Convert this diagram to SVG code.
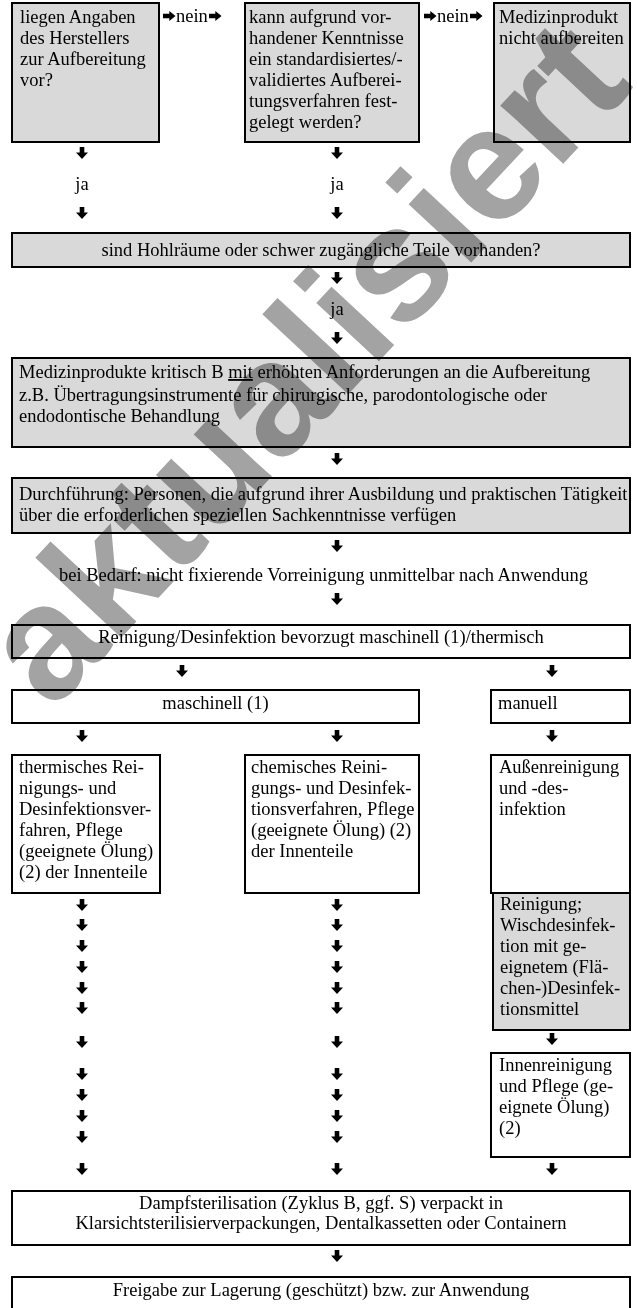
<svg xmlns="http://www.w3.org/2000/svg" xmlns:xlink="http://www.w3.org/1999/xlink" width="637" height="1308" viewBox="0 0 637 1308">
<style>
  .box { stroke: #000; stroke-width: 2; fill: #fff; }
  .grey { fill: #d9d9d9; }
  text { font-family: "Liberation Serif", "Times New Roman", serif; font-size: 18.5px; fill: #000; }
  .mid { text-anchor: middle; }
  .wm { font-family: "Liberation Sans", Arial, sans-serif; font-weight: bold; font-size: 162px; fill: #a3a3a3; mix-blend-mode: multiply; }
</style>
<defs>
  <path id="dn" d="M-2.3,0 H2.3 V5.4 H6 L0,12 L-6,5.4 H-2.3 Z" fill="#000"/>
  <path id="rt" d="M0,-2.3 H6.3 V-5 L12.5,0 L6.3,5 V2.3 H0 Z" fill="#000"/>
</defs>
<rect width="637" height="1308" fill="#fff"/>

<g id="nodeA"><rect class="box grey" x="12" y="3" width="147" height="139"/>
<text x="20" y="23">liegen Angaben</text><text x="20" y="44">des Herstellers</text><text x="20" y="65">zur Aufbereitung</text><text x="20" y="86">vor?</text></g>

<g id="nodeB"><rect class="box grey" x="245" y="3" width="174" height="139"/>
<text x="249" y="23">kann aufgrund vor-</text><text x="249" y="44">handener Kenntnisse</text><text x="249" y="65">ein standardisiertes/-</text><text x="249" y="86">validiertes Aufberei-</text><text x="249" y="107">tungsverfahren fest-</text><text x="249" y="128">gelegt werden?</text></g>

<g id="nodeC"><rect class="box grey" x="494" y="3" width="136" height="139"/>
<text x="499" y="23">Medizinprodukt</text><text x="499" y="44">nicht aufbereiten</text></g>

<g id="nodeHohl"><rect class="box grey" x="12" y="233" width="618" height="34"/>
<text class="mid" x="321" y="256">sind Hohlräume oder schwer zugängliche Teile vorhanden?</text></g>

<g id="nodeKritB"><rect class="box grey" x="12" y="358" width="618" height="89"/>
<text x="19" y="378">Medizinprodukte kritisch B <tspan text-decoration="underline">mit</tspan> erhöhten Anforderungen an die Aufbereitung</text>
<text x="19" y="401">z.B. Übertragungsinstrumente für chirurgische, parodontologische oder</text>
<text x="19" y="422">endodontische Behandlung</text></g>

<g id="nodeDurch"><rect class="box grey" x="12" y="478" width="618" height="55"/>
<text x="19" y="500">Durchführung: Personen, die aufgrund ihrer Ausbildung und praktischen Tätigkeit</text>
<text x="19" y="521">über die erforderlichen speziellen Sachkenntnisse verfügen</text></g>

<g id="nodeVorrein"><text x="59" y="581">bei Bedarf: nicht fixierende Vorreinigung unmittelbar nach Anwendung</text></g>

<g id="nodeRein"><rect class="box" x="12" y="625" width="618" height="33"/>
<text class="mid" x="321" y="643">Reinigung/Desinfektion bevorzugt maschinell (1)/thermisch</text></g>

<g id="nodeMasch"><rect class="box" x="12" y="690" width="407" height="33"/>
<text class="mid" x="215.5" y="709">maschinell (1)</text></g>

<g id="nodeManuell"><rect class="box" x="491" y="690" width="139" height="33"/>
<text x="498" y="709">manuell</text></g>

<g id="nodeTherm"><rect class="box" x="12" y="755" width="148" height="138"/>
<text x="19" y="773">thermisches Rei-</text><text x="19" y="794">nigungs- und</text><text x="19" y="815">Desinfektionsver-</text><text x="19" y="836">fahren, Pflege</text><text x="19" y="857">(geeignete Ölung)</text><text x="19" y="878">(2) der Innenteile</text></g>

<g id="nodeChem"><rect class="box" x="245" y="755" width="174" height="138"/>
<text x="251" y="773">chemisches Reini-</text><text x="251" y="794">gungs- und Desinfek-</text><text x="251" y="815">tionsverfahren, Pflege</text><text x="251" y="836">(geeignete Ölung) (2)</text><text x="251" y="857">der Innenteile</text></g>

<g id="nodeAussen"><rect class="box" x="491" y="755" width="139" height="138"/>
<text x="499" y="773">Außenreinigung</text><text x="499" y="794">und -des-</text><text x="499" y="815">infektion</text></g>

<g id="nodeWisch"><rect class="box grey" x="493" y="893" width="137" height="137"/>
<text x="500" y="910">Reinigung;</text><text x="500" y="931">Wischdesinfek-</text><text x="500" y="952">tion mit ge-</text><text x="500" y="973">eignetem (Flä-</text><text x="500" y="994">chen-)Desinfek-</text><text x="500" y="1015">tionsmittel</text></g>

<g id="nodeInnen"><rect class="box" x="491" y="1053" width="139" height="104"/>
<text x="499" y="1071">Innenreinigung</text><text x="499" y="1092">und Pflege (ge-</text><text x="499" y="1113">eignete Ölung)</text><text x="499" y="1134">(2)</text></g>

<g id="nodeDampf"><rect class="box" x="12" y="1191" width="618" height="54"/>
<text class="mid" x="321" y="1209">Dampfsterilisation (Zyklus B, ggf. S) verpackt in</text>
<text class="mid" x="321" y="1229">Klarsichtsterilisierverpackungen, Dentalkassetten oder Containern</text></g>

<g id="nodeFreigabe"><rect class="box" x="12" y="1277" width="618" height="50"/>
<text class="mid" x="321" y="1296">Freigabe zur Lagerung (geschützt) bzw. zur Anwendung</text></g>

<g id="connectors">
  <use xlink:href="#rt" x="163" y="16"/><text x="176" y="22">nein</text><use xlink:href="#rt" x="209" y="16"/>
  <use xlink:href="#rt" x="424" y="16"/><text x="437" y="22">nein</text><use xlink:href="#rt" x="470" y="16"/>
  <use xlink:href="#dn" x="82" y="147"/><text class="mid" x="82" y="190">ja</text><use xlink:href="#dn" x="82" y="207"/>
  <use xlink:href="#dn" x="337" y="147"/><text class="mid" x="337" y="190">ja</text><use xlink:href="#dn" x="337" y="207"/>
  <use xlink:href="#dn" x="337" y="272"/><text class="mid" x="337" y="315">ja</text><use xlink:href="#dn" x="337" y="332"/>
  <use xlink:href="#dn" x="337" y="453"/>
  <use xlink:href="#dn" x="337" y="540"/>
  <use xlink:href="#dn" x="337" y="593"/>
  <use xlink:href="#dn" x="182" y="665"/><use xlink:href="#dn" x="552" y="665"/>
  <use xlink:href="#dn" x="82" y="730"/><use xlink:href="#dn" x="337" y="730"/><use xlink:href="#dn" x="552" y="730"/>
  <g id="colL">
    <use xlink:href="#dn" x="82" y="899"/><use xlink:href="#dn" x="82" y="919"/><use xlink:href="#dn" x="82" y="940"/><use xlink:href="#dn" x="82" y="961"/><use xlink:href="#dn" x="82" y="982"/><use xlink:href="#dn" x="82" y="1002"/>
    <use xlink:href="#dn" x="82" y="1036"/>
    <use xlink:href="#dn" x="82" y="1068"/><use xlink:href="#dn" x="82" y="1089"/><use xlink:href="#dn" x="82" y="1110"/><use xlink:href="#dn" x="82" y="1131"/>
    <use xlink:href="#dn" x="82" y="1163"/>
  </g>
  <use xlink:href="#colL" x="255"/>
  <use xlink:href="#dn" x="552" y="1033"/>
  <use xlink:href="#dn" x="552" y="1163"/>
  <use xlink:href="#dn" x="337" y="1250"/>
</g>

<g id="watermark"><text class="wm" transform="translate(52,712) rotate(-47)">aktualisiert</text></g>
</svg>
